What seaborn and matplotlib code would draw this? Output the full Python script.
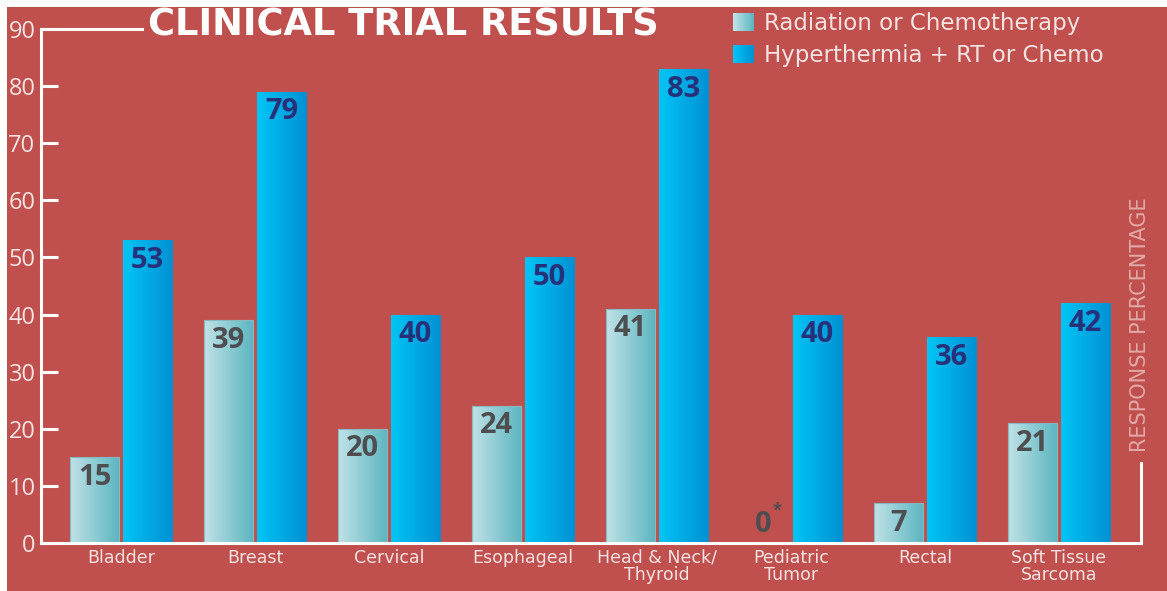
import matplotlib
matplotlib.use("Agg")
import numpy as np
import pandas as pd
import seaborn as sns
import matplotlib.pyplot as plt
from matplotlib.colors import LinearSegmentedColormap
from matplotlib.patches import Rectangle
from matplotlib.legend_handler import HandlerBase

# --- data ---
categories = ["Bladder", "Breast", "Cervical", "Esophageal", "Head & Neck/\nThyroid",
              "Pediatric\nTumor", "Rectal", "Soft Tissue\nSarcoma"]
series_names = ["Radiation or Chemotherapy", "Hyperthermia + RT or Chemo"]
standard_vals = [15, 39, 20, 24, 41, 0, 7, 21]
hyper_vals = [53, 79, 40, 50, 83, 40, 36, 42]
y_ticks = list(range(0, 100, 10))

# --- styling ---
BG = "#c0504d"
LABEL_PINK = "#f5e2e2"
light_cmap = LinearSegmentedColormap.from_list("light", ["#c0e2e7", "#5cb5c0"])
blue_cmap = LinearSegmentedColormap.from_list("blue", ["#00c5f5", "#0090d4"])


class GradientHandler(HandlerBase):
    """Legend swatch drawn as a horizontal gradient."""

    def __init__(self, cmap, n=24):
        super().__init__()
        self.cmap = cmap
        self.n = n

    def create_artists(self, legend, orig_handle, xdescent, ydescent,
                       width, height, fontsize, trans):
        step = width / self.n
        return [Rectangle((-xdescent + k * step, -ydescent), step * 1.05, height,
                          facecolor=self.cmap(k / (self.n - 1)), lw=0, transform=trans)
                for k in range(self.n)]


df = pd.DataFrame({
    "category": categories * 2,
    "series": [series_names[0]] * len(categories) + [series_names[1]] * len(categories),
    "value": standard_vals + hyper_vals,
})

W, H = 1167, 591
fig = plt.figure(figsize=(W / 100, H / 100), dpi=100, facecolor="white")
fig.add_artist(Rectangle((7 / W, 0), 1, 1 - 7 / H, transform=fig.transFigure,
                         facecolor=BG, lw=0, zorder=0))

ax = fig.add_axes([41 / W, 48 / H, 1100 / W, 514 / H])
ax.patch.set_visible(False)

sns.barplot(data=df, x="category", y="value", hue="series", order=categories,
            hue_order=series_names, palette=["#8fcbd3", "#00aae6"], saturation=1,
            width=0.79, gap=0.07, legend=False, ax=ax, linewidth=0)

# gradient fill clipped to each bar
grad = np.linspace(0, 1, 256).reshape(1, -1)
for container, cmap, edge in zip(ax.containers, [light_cmap, blue_cmap], ["#86b9c0", "none"]):
    for bar in container:
        x0, y0 = bar.get_xy()
        w, h = bar.get_width(), bar.get_height()
        if h <= 0:
            bar.set_visible(False)
            continue
        im = ax.imshow(grad, cmap=cmap, extent=[x0, x0 + w, y0, y0 + h],
                       aspect="auto", interpolation="bicubic", zorder=2)
        im.set_clip_path(bar)
        bar.set_facecolor("none")
        bar.set_edgecolor(edge)
        bar.set_linewidth(0.8)
        bar.set_zorder(2.1)

ax.set_xlim(-0.597, 7.612)
ax.set_ylim(0, 90)

# value labels
for container, vals, color in zip(ax.containers, [standard_vals, hyper_vals], ["#4e4e50", "#27317a"]):
    for bar, v in zip(container, vals):
        xc = bar.get_x() + bar.get_width() / 2
        if v == 0:
            ax.annotate("0", (xc, 0), xytext=(-1, 3), textcoords="offset points",
                        ha="center", va="bottom", fontsize=21, weight="bold",
                        color=color, family="Open Sans", zorder=5)
            ax.annotate("*", (xc, 0), xytext=(9, 17), textcoords="offset points",
                        ha="center", va="bottom", fontsize=12, weight="bold",
                        color=color, family="Open Sans", zorder=5)
            continue
        ax.annotate(str(v), (xc, v), xytext=(0, -4), textcoords="offset points",
                    ha="center", va="top", fontsize=21, weight="bold",
                    color=color, family="Open Sans", zorder=5)

# axes frame
for side in ["left", "bottom", "right"]:
    ax.spines[side].set_color("white")
    ax.spines[side].set_linewidth(2.2)
    ax.spines[side].set_zorder(4)
ax.spines["top"].set_visible(False)
ax.spines["right"].set_bounds(0, 14)
ax.axhline(90, 0, 101 / 1100, color="white", lw=2.2, clip_on=False, zorder=4)

ax.set_yticks(y_ticks)
ax.tick_params(axis="y", direction="in", length=12.5, width=2.2, color="white",
               labelcolor=LABEL_PINK, labelsize=17, pad=4)
for lbl in ax.get_yticklabels():
    lbl.set_family("Open Sans")
ax.tick_params(axis="x", length=0, pad=4, labelsize=12.5, labelcolor=LABEL_PINK)
for lbl in ax.get_xticklabels():
    lbl.set_linespacing(0.95)
ax.set_xlabel("")
ax.set_ylabel("")

# legend
handles = [Rectangle((0, 0), 1, 1), Rectangle((0, 0), 1, 1)]
fig.legend(handles, series_names, loc="upper left",
           bbox_to_anchor=(733 / W, 1 - 12 / H), bbox_transform=fig.transFigure,
           frameon=False, fontsize=16.5, labelcolor=LABEL_PINK,
           handlelength=0.92, handleheight=0.85, handletextpad=0.45,
           labelspacing=0.4, borderpad=0, borderaxespad=0,
           handler_map={handles[0]: GradientHandler(light_cmap),
                        handles[1]: GradientHandler(blue_cmap)})

# titles
fig.text(148 / W, 1 - 25 / H, "CLINICAL TRIAL RESULTS", ha="left", va="center",
         fontsize=26.5, weight="bold", color="white")
fig.text(1140 / W, 1 - 325 / H, "RESPONSE PERCENTAGE", rotation=90, ha="center",
         va="center", fontsize=15, family="DejaVu Sans", weight="normal",
         color="#e2a9a7")

fig.savefig("out.png", dpi=100, facecolor="white")
